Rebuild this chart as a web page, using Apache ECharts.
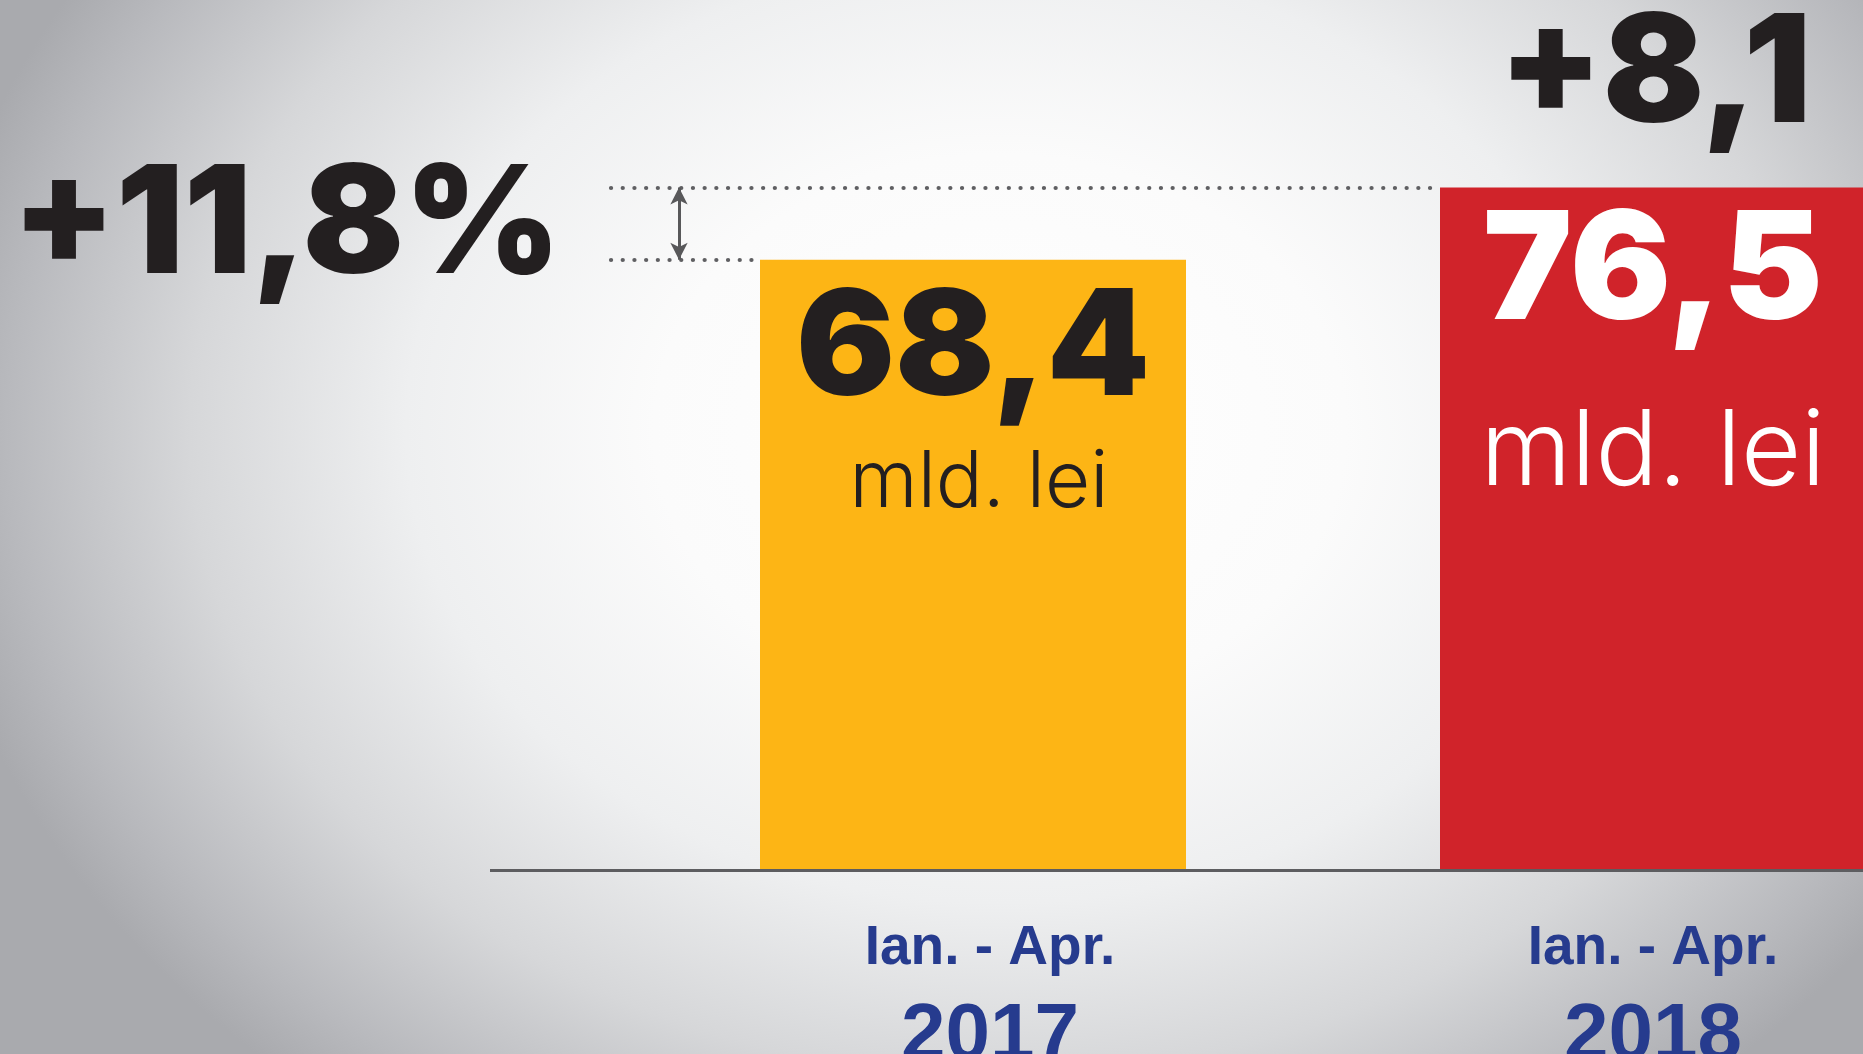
<!DOCTYPE html>
<html>
<head>
<meta charset="utf-8">
<script src="https://cdn.jsdelivr.net/npm/echarts@6/dist/echarts.min.js"></script>
<style>
  html, body { margin: 0; padding: 0; }
  body {
    width: 1863px; height: 1054px; overflow: hidden;
    background: radial-gradient(ellipse 1080px 860px at 1000px 430px,
      #ffffff 0%, #fbfbfb 32%, #eeeff0 55%, #d6d7d9 75%, #b8b9bd 92%, #a9aaae 100%);
  }
  #chart { width: 1863px; height: 1054px; }
</style>
</head>
<body>
<div id="chart"></div>
<script>
// date
const periods = ['Ian. - Apr.', 'Ian. - Apr.']
const years = ['2017', '2018']
const values = [68.4, 76.5]
const unit = 'mld. lei'

const fmt = v => v.toFixed(1).replace('.', ',')
const diff = values[1] - values[0]
const pct = (values[1] / values[0] - 1) * 100

const dotLine = {
  type: [0.1, 11.6],
  cap: 'round',
  width: 4.2,
  color: '#5f5f62'
}

const option = {
  animation: false,
  backgroundColor: 'transparent',
  grid: {
    left: 633,
    top: 67,
    width: 1360,
    bottom: 184,
    containLabel: false,
    outerBoundsMode: 'none'
  },
  xAxis: {
    type: 'category',
    data: [
      { value: periods[0] + ' ' + years[0], textStyle: { padding: [0, 0, 0, 34] } },
      { value: periods[1] + ' ' + years[1] }
    ],
    axisLine: { show: false },
    axisTick: { show: false },
    axisLabel: {
      interval: 0,
      margin: 49,
      hideOverlap: false,
      formatter: (v, i) => '{a|' + periods[i] + '}\n{b|' + years[i] + '}',
      rich: {
        a: {
          fontFamily: 'Liberation Sans',
          fontWeight: 'bold',
          fontSize: 55,
          lineHeight: 60,
          color: '#263b8e'
        },
        b: {
          fontFamily: 'Liberation Sans',
          fontWeight: 'bold',
          fontSize: 80,
          lineHeight: 116,
          color: '#263b8e'
        }
      }
    }
  },
  yAxis: {
    type: 'value',
    min: 0,
    max: 90,
    show: false,
    splitLine: { show: false }
  },
  series: [
    {
      type: 'bar',
      barWidth: 426,
      data: [
        {
          value: values[0],
          itemStyle: { color: '#fdb515' },
          label: {
            distance: 17.5,
            rich: {
              v: { fontFamily: 'Inter', fontWeight: 900, fontSize: 147, lineHeight: 147, color: '#231f20' },
              u: { fontFamily: 'Inter', fontWeight: 300, fontSize: 78, lineHeight: 119, color: '#231f20', padding: [0, 0, 0, 12] }
            }
          }
        },
        {
          value: values[1],
          itemStyle: { color: '#d0232a' },
          label: {
            distance: 21.5,
            rich: {
              v: { fontFamily: 'Inter', fontWeight: 900, fontSize: 150, lineHeight: 130, color: '#ffffff' },
              u: { fontFamily: 'Inter', fontWeight: 300, fontSize: 104, lineHeight: 229, color: '#ffffff' }
            }
          }
        }
      ],
      label: {
        show: true,
        position: 'insideTop',
        formatter: p => '{v|' + fmt(p.value) + '}\n{u|' + unit + '}'
      },
      markLine: {
        silent: true,
        symbol: 'none',
        label: { show: false },
        data: [
          [
            { x: 611, yAxis: values[1], lineStyle: dotLine },
            { x: 1440, yAxis: values[1] }
          ],
          [
            { x: 611, yAxis: values[0], lineStyle: dotLine },
            { x: 760, yAxis: values[0] }
          ],
          [
            {
              x: 679, yAxis: values[1], symbol: 'arrow', symbolSize: [13, 17],
              lineStyle: { type: 'solid', width: 3, color: '#58585a' }
            },
            { x: 679, yAxis: values[0], symbol: 'arrow', symbolSize: [13, 17] }
          ],
          [
            { x: 490, yAxis: 0, lineStyle: { type: 'solid', width: 3, color: '#5d5d60' } },
            { x: 1863, yAxis: 0 }
          ]
        ]
      }
    }
  ],
  graphic: [
    {
      type: 'text',
      x: 12,
      y: 153,
      style: {
        text: '+' + fmt(pct) + '%',
        font: '900 150px Inter',
        fill: '#231f20',
        textAlign: 'left',
        textVerticalAlign: 'top'
      }
    },
    {
      type: 'text',
      x: 1655,
      y: 2,
      style: {
        text: '+' + fmt(diff),
        font: '900 150px Inter',
        fill: '#231f20',
        textAlign: 'center',
        textVerticalAlign: 'top'
      }
    }
  ]
}

const myChart = echarts.init(document.getElementById('chart'))
myChart.setOption(option)
</script>
</body>
</html>
